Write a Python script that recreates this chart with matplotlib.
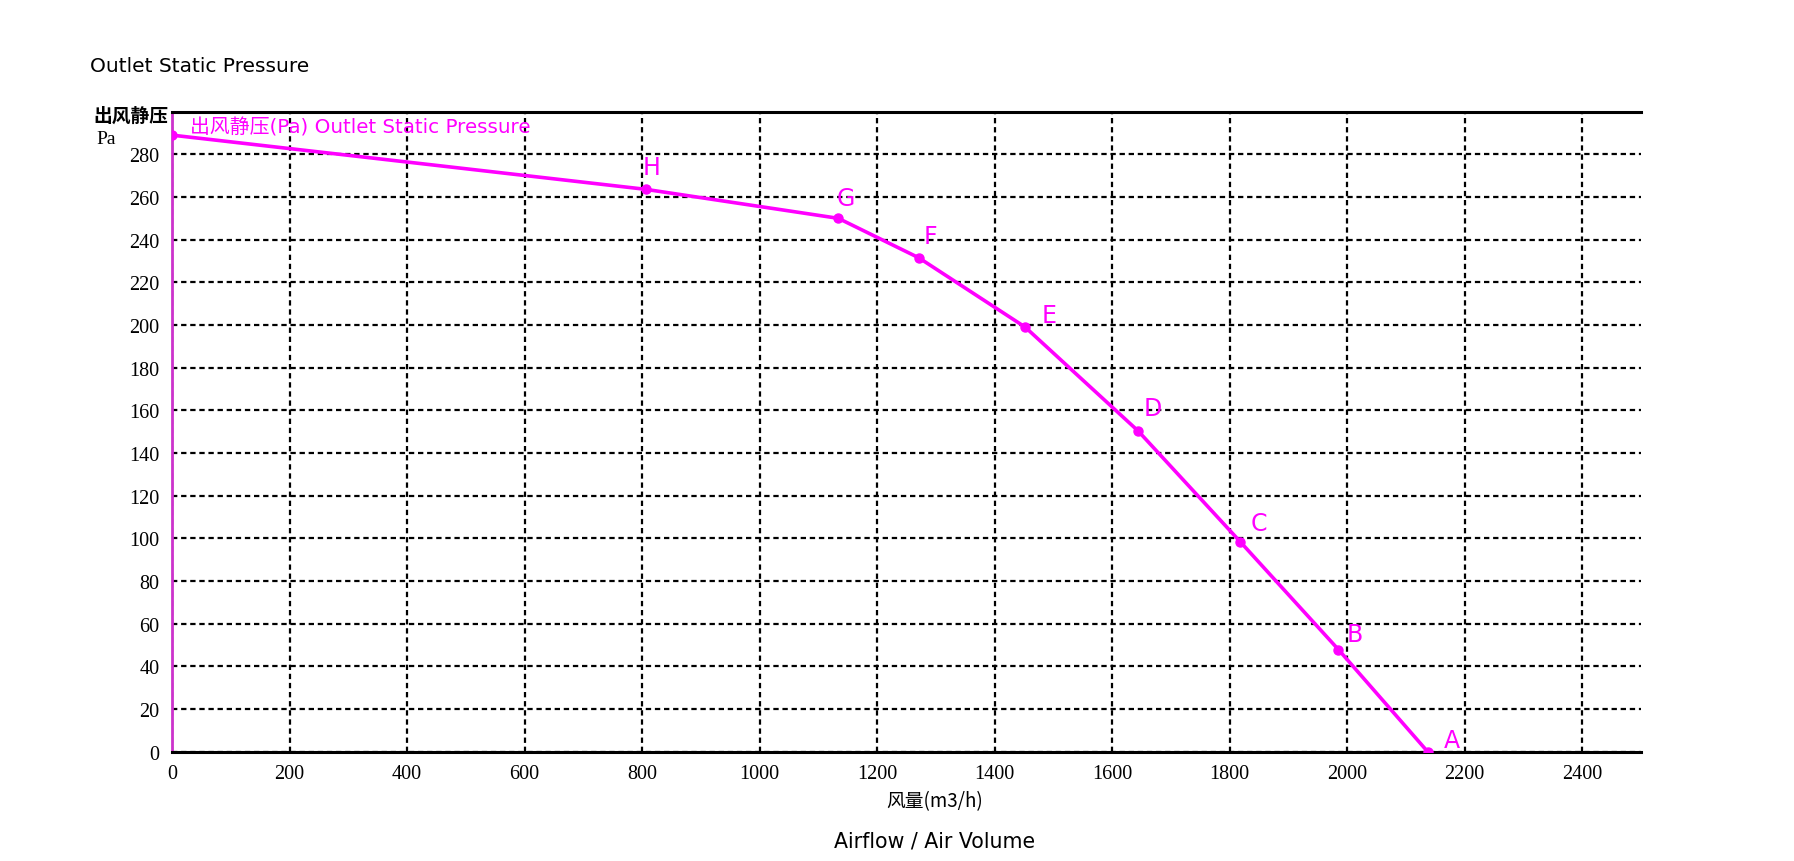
import matplotlib
matplotlib.use("Agg")
import matplotlib.pyplot as plt

# ── Data ───────────────────────────────────────────────
point_names = ["", "H", "G", "F", "E", "D", "C", "B", "A"]
airflow = [0, 806, 1134, 1271, 1452, 1644, 1818, 1985, 2137]
pressure = [289, 263.6, 250, 231.5, 199, 150.4, 98.4, 47.9, 0]

x_ticks = list(range(0, 2401, 200))
y_ticks = list(range(0, 281, 20))

# label offsets in pixels (dx, dy) from each point
label_offsets = [(0, 0), (-3, 10), (-2, 8), (5, 10), (16, 0), (6, 11), (10, 7), (8, 4), (16, 0)]

MAGENTA = "#ff00ff"
CJK = ["DejaVu Sans", "Noto Sans CJK SC"]

# ── Figure ─────────────────────────────────────────────
fig = plt.figure(figsize=(17.94, 8.62), dpi=100)
ax = fig.add_axes([0.0959, 0.1268, 0.8188, 0.7425])

ax.plot(airflow, pressure, color=MAGENTA, lw=2.6, marker="o", ms=6.5, zorder=5)

for name, x, y, (dx, dy) in zip(point_names, airflow, pressure, label_offsets):
    if name:
        ax.annotate(name, (x, y), xytext=(dx * 0.72, dy * 0.72), textcoords="offset points",
                    color=MAGENTA, fontsize=17, ha="left", va="bottom",
                    family="DejaVu Sans", zorder=6)

ax.set_xlim(0, 2500)
ax.set_ylim(0, 300)
ax.set_xticks(x_ticks)
ax.set_yticks(y_ticks)
ax.tick_params(length=0, labelsize=14.5, pad=9)
for lbl in ax.get_xticklabels() + ax.get_yticklabels():
    lbl.set_family("Liberation Serif")

ax.grid(True, color="black", ls=(0, (2.4, 1.7)), lw=1.6)

ax.spines["right"].set_visible(False)
ax.spines["top"].set_linewidth(2.2)
ax.spines["bottom"].set_linewidth(2.2)
ax.spines["left"].set_color("#cc33cc")
ax.spines["left"].set_linewidth(2)

# ── Texts ──────────────────────────────────────────────
fig.text(90 / 1794, 1 - 67 / 862, "Outlet Static Pressure", fontsize=14.5,
         family="DejaVu Sans", va="center", ha="left")
fig.text(93 / 1794, 1 - 116 / 862, "出风静压", fontsize=13.5,
         family=CJK, weight="bold", va="center", ha="left")
fig.text(96 / 1794, 1 - 140 / 862, "Pa", fontsize=14,
         family="Liberation Serif", va="center", ha="left")
fig.text(190 / 1794, 1 - 128 / 862, "出风静压(Pa) Outlet Static Pressure",
         fontsize=14.3, color=MAGENTA, family=CJK, va="center", ha="left")
fig.text(935 / 1794, 1 - 802 / 862, "风量(m3/h)", fontsize=13.5,
         family=["Noto Sans CJK SC", "DejaVu Sans"], va="center", ha="center")
fig.text(935 / 1794, 1 - 842 / 862, "Airflow / Air Volume", fontsize=14.8,
         family="DejaVu Sans", va="center", ha="center")

fig.savefig("out.png", dpi=100)
